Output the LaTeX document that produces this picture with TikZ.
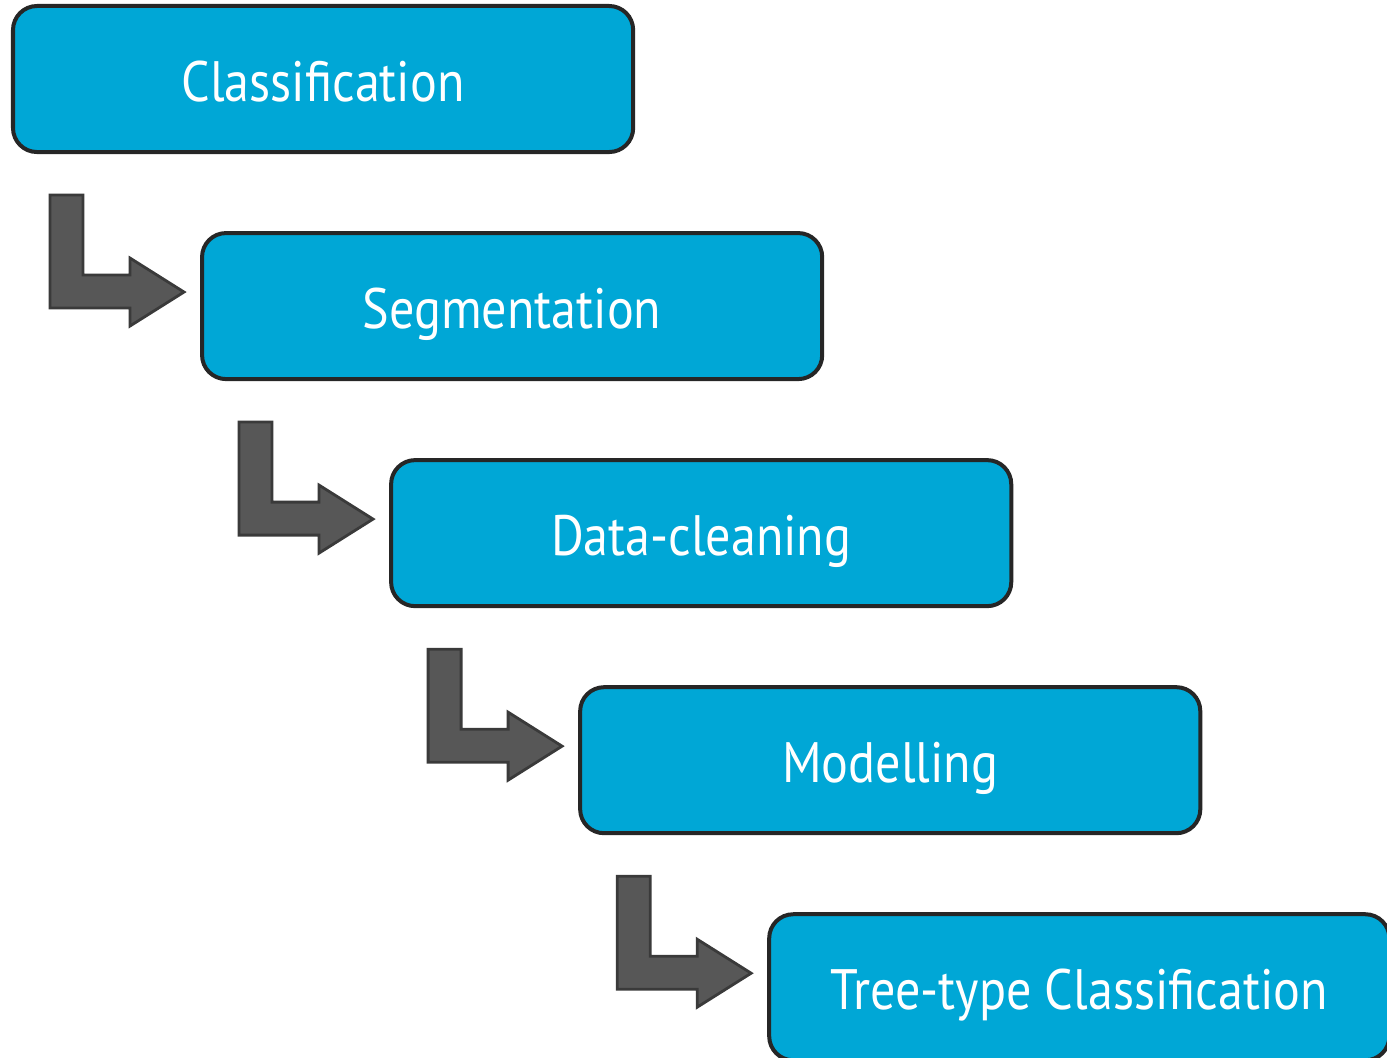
\documentclass[tikz,border=0pt]{standalone}
\usepackage{fontspec}
\setmainfont[FakeStretch=0.88]{PT Sans}
\usepackage{tikz}
\usepackage{xcolor}
\usetikzlibrary{positioning, calc}

\definecolor{stepblue}{RGB}{0,167,214}
\definecolor{boxedge}{RGB}{38,38,38}
\definecolor{arrowfill}{RGB}{87,87,87}
\definecolor{arrowedge}{RGB}{58,58,58}

% bent arrow under a box, pointing right to the next one
\newcommand{\bentarrow}[1]{%
  \draw [bent] ($(#1.south west)+(37,-43)$) -- ++(33,0) -- ++(0,-80) -- ++(47,0) -- ++(0,17)
    -- ++(54,-34) -- ++(-54,-34) -- ++(0,18) -- ++(-80,0) -- cycle;}

\begin{document}
\begin{tikzpicture}[
  x=0.025cm, y=0.025cm,
  block/.style={rectangle, draw=boxedge, fill=stepblue, line width=0.1cm, rounded corners=0.6cm,
    minimum width=15.5cm, minimum height=3.65cm, inner sep=0pt, outer sep=0pt,
    text height=1.1cm, text depth=0cm,
    text=white, font=\fontsize{40.5}{46}\selectfont},
  bent/.style={draw=arrowedge, fill=arrowfill, line width=0.07cm, line join=miter}
]
  \useasboundingbox (0,0) rectangle (1387,-1058);

  \node [block, anchor=north west] (classif) at (13,-6) {Classification};
  \node [block, below right=2.025cm and 4.725cm of classif.south west] (segment) {Segmentation};
  \node [block, below right=2.025cm and 4.725cm of segment.south west] (cleaning) {Data-cleaning};
  \node [block, below right=2.025cm and 4.725cm of cleaning.south west] (model) {Modelling};
  \node [block, below right=2.025cm and 4.725cm of model.south west] (treetype) {Tree-type Classification};

  \bentarrow{classif}
  \bentarrow{segment}
  \bentarrow{cleaning}
  \bentarrow{model}
\end{tikzpicture}
\end{document}
